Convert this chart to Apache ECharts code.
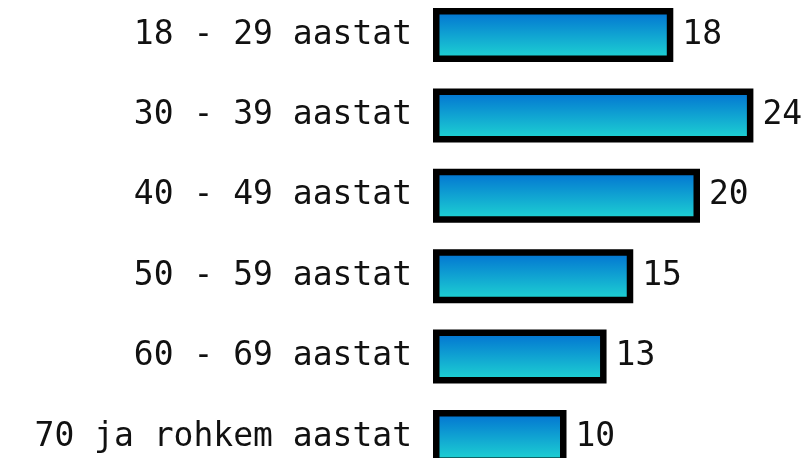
<!DOCTYPE html>
<html><head><meta charset="utf-8">
<script src="https://cdn.jsdelivr.net/npm/echarts@6/dist/echarts.min.js"></script>
<style>html,body{margin:0;padding:0;background:#fff}#c{width:811px;height:458px}</style>
</head><body><div id="c"></div>
<script>
const categories = ["18 - 29 aastat","30 - 39 aastat","40 - 49 aastat","50 - 59 aastat","60 - 69 aastat","70 ja rohkem aastat"];
const values = [18, 24, 20, 15, 13, 10];

const chart = echarts.init(document.getElementById('c'), null, {renderer:'canvas'});
chart.setOption({
  animation:false,
  backgroundColor:'#ffffff',
  grid:{left:433, top:35, width:400.5, height:402, containLabel:false, outerBoundsMode:'none'},
  xAxis:{type:'value', min:0, max:30, show:false},
  yAxis:{type:'category', data:categories, inverse:true, boundaryGap:false,
    axisLine:{show:false}, axisTick:{show:false}, splitLine:{show:false},
    axisLabel:{fontFamily:'DejaVu Sans Mono', fontSize:33, color:'#111', margin:21}},
  series:[{type:'bar', data:values, barWidth:54,
    itemStyle:{borderColor:'#000', borderWidth:6.5,
      color:new echarts.graphic.LinearGradient(0,0,0,1,[{offset:0,color:'#006cd2'},{offset:1,color:'#20dad2'}])},
    label:{show:true, position:'right', distance:9, fontFamily:'DejaVu Sans Mono', fontSize:33, color:'#111'}}]
});
</script></body></html>
